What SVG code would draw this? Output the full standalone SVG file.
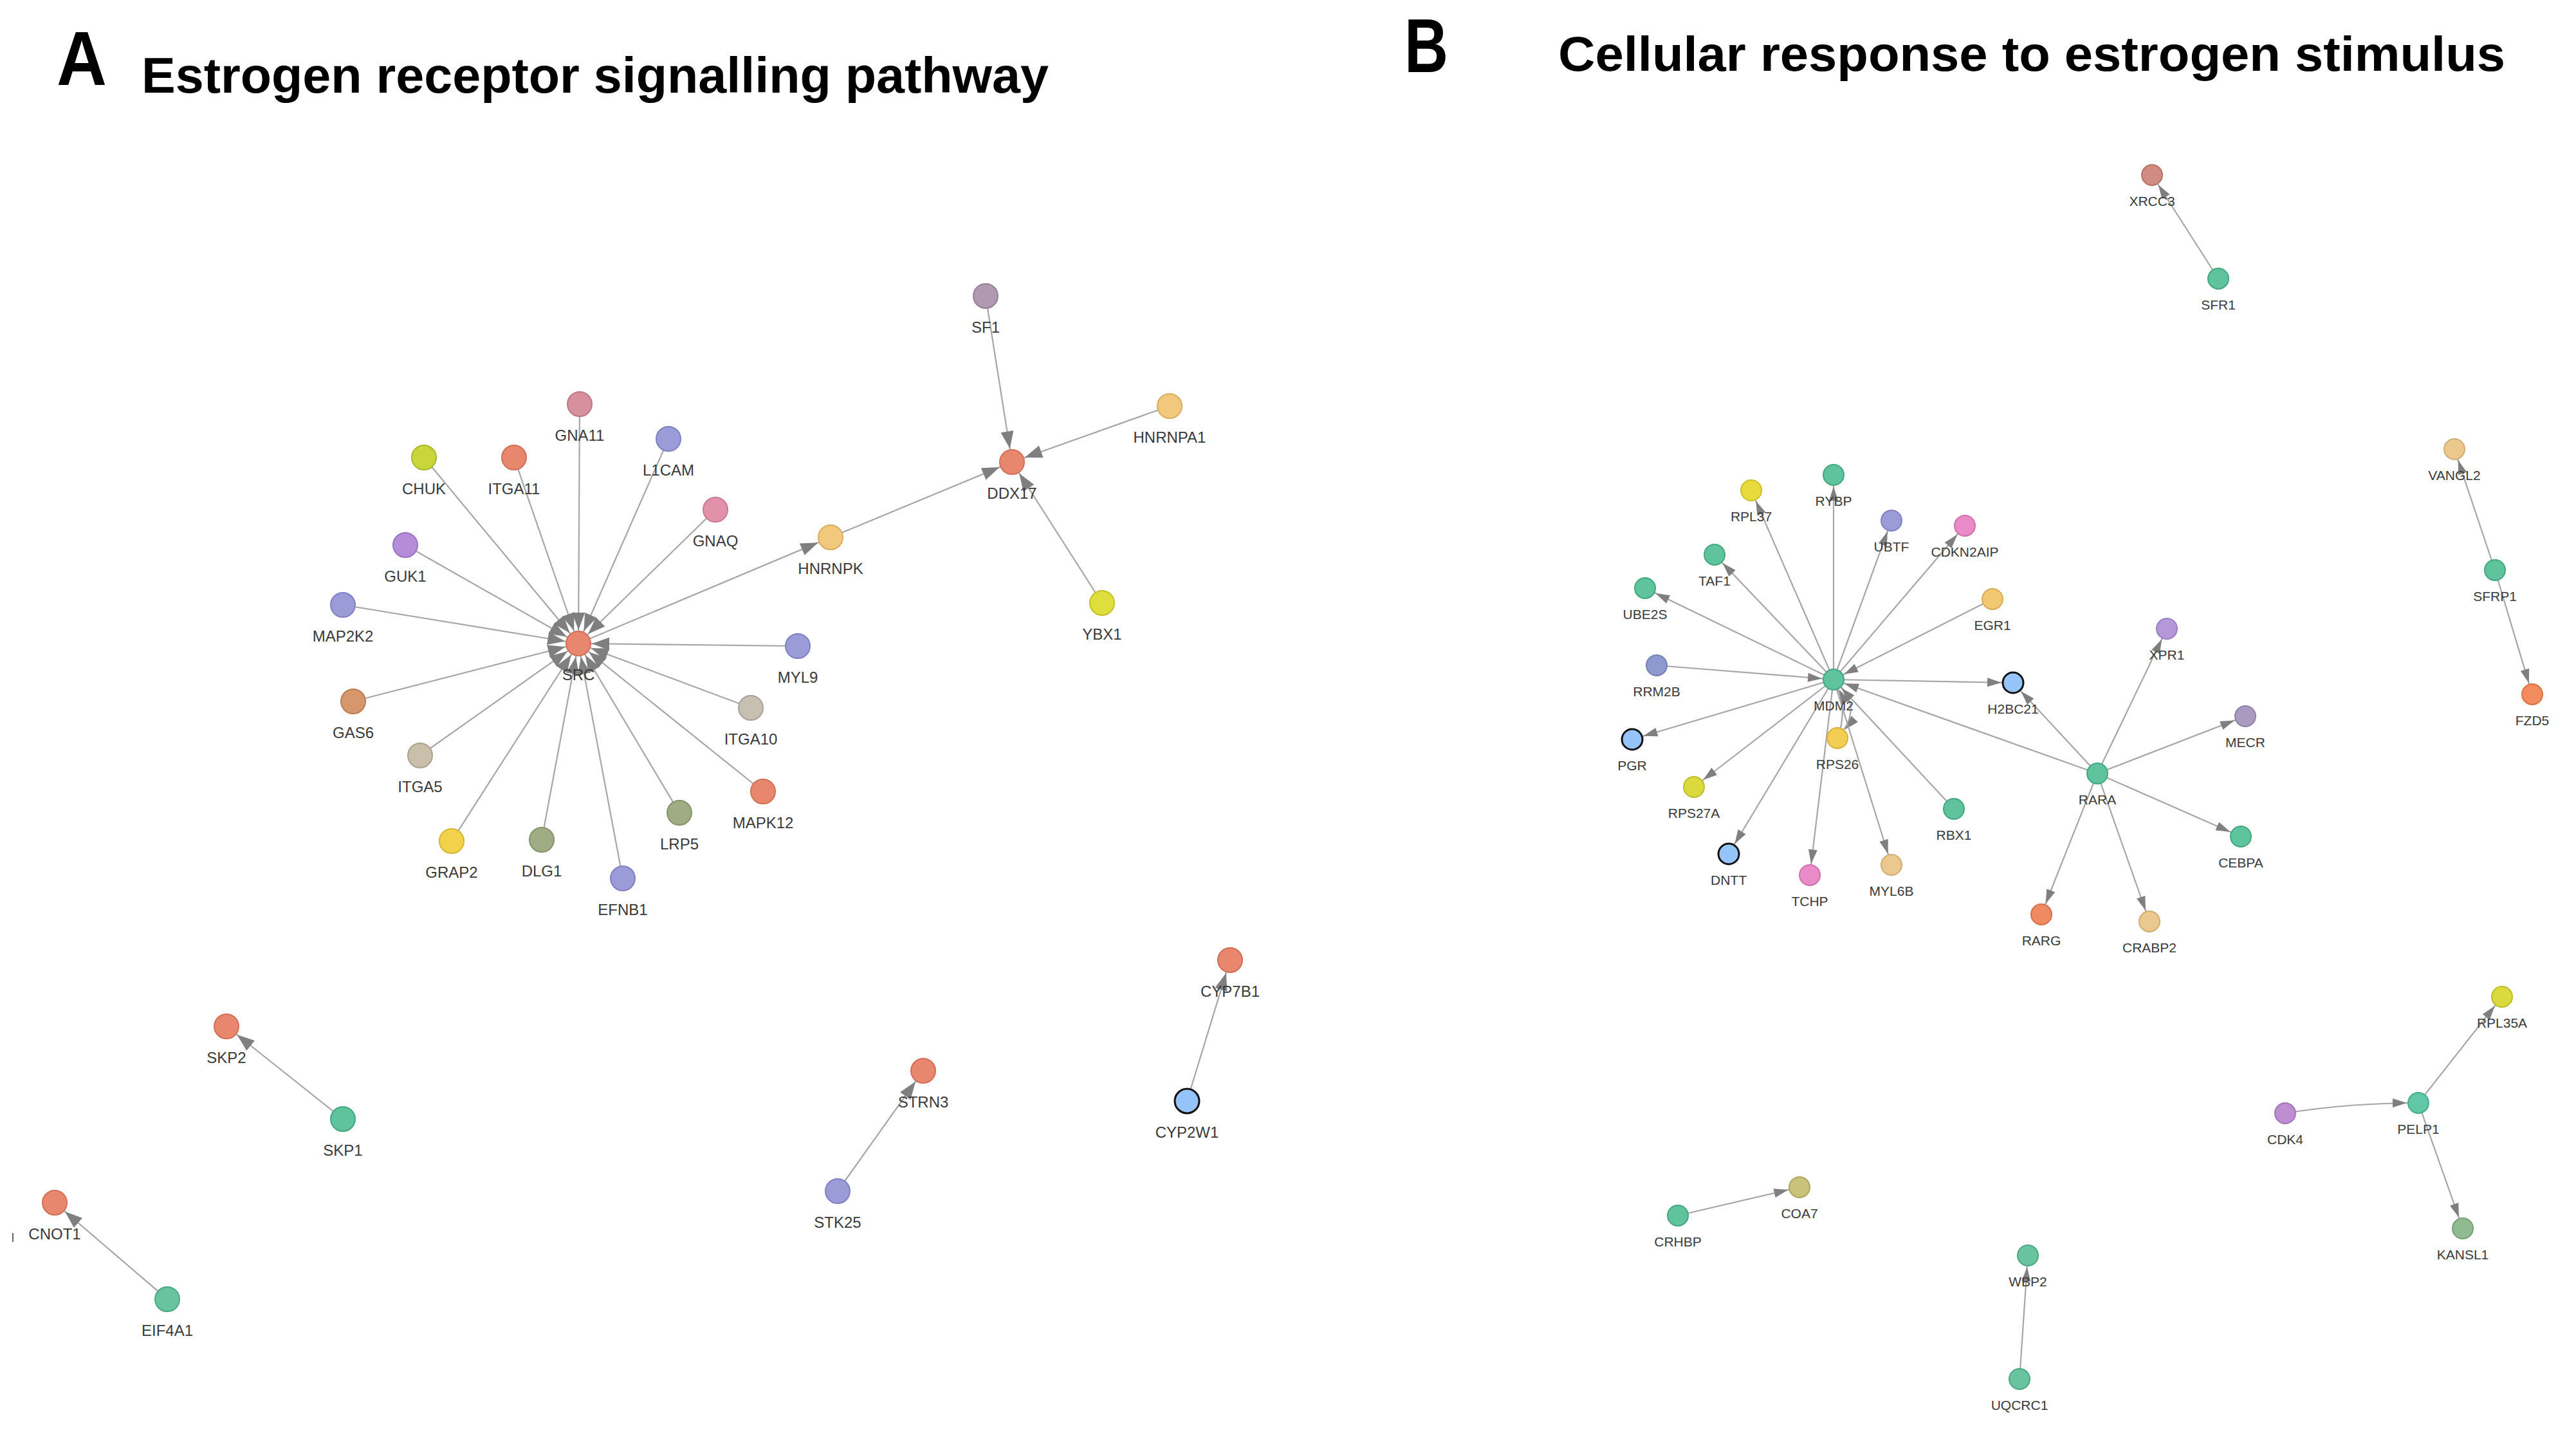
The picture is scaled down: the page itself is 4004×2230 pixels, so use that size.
<svg xmlns="http://www.w3.org/2000/svg" width="4004" height="2230" viewBox="0 0 4004 2230">
<style>
.e{stroke:#a6a6a6;stroke-width:2.2;fill:none}
.la{font-family:"Liberation Sans",Arial,sans-serif;font-size:24px;fill:#3a3a3a;text-anchor:middle}
.lb{font-family:"Liberation Sans",Arial,sans-serif;font-size:21px;fill:#3a3a3a;text-anchor:middle}
.ttl{font-family:"Liberation Sans",Arial,sans-serif;font-weight:bold;fill:#000}
circle{stroke-width:2}
.salmon{fill:#E9866E;stroke:#D26F57}
.pinkA{fill:#D6909E;stroke:#BF7886}
.pink2{fill:#E291AA;stroke:#CB7893}
.chuk{fill:#C8D63C;stroke:#A9B82A}
.lav{fill:#9B9BD8;stroke:#8080C4}
.purp{fill:#B48CD8;stroke:#9A72C2}
.gas{fill:#D6976C;stroke:#BC7D52}
.beige{fill:#C9BFAA;stroke:#ADA28C}
.beige2{fill:#C6BFB2;stroke:#AAA294}
.yel{fill:#F2D24A;stroke:#D6B632}
.olive{fill:#9FAC84;stroke:#85936A}
.lorange{fill:#F2C97C;stroke:#D9AD5E}
.mauve{fill:#AF9AB2;stroke:#957F99}
.ybx{fill:#DEDE3C;stroke:#C2C228}
.teal{fill:#5FC39D;stroke:#43A882}
.teal2{fill:#68C39E;stroke:#4CA983}
.blueb{fill:#94C4FA;stroke:#111;stroke-width:3}
.yel2{fill:#E8DC3C;stroke:#CCC028}
.magenta{fill:#E98BC8;stroke:#D070AE}
.egr{fill:#F2C872;stroke:#D8AC55}
.rrm{fill:#8E9ACD;stroke:#7480B8}
.rps26{fill:#F2CE52;stroke:#D8B23A}
.rps27{fill:#DADA3E;stroke:#BEBE2A}
.tan{fill:#EBC98E;stroke:#D1AE72}
.xpr{fill:#B598D8;stroke:#9A7EC2}
.mecr{fill:#A99BC0;stroke:#8E80A8}
.rarg{fill:#EF8A62;stroke:#D87048}
.xrcc{fill:#D18C82;stroke:#B87268}
.fzd{fill:#F28C5E;stroke:#DA7244}
.cdk4{fill:#BE8ED2;stroke:#A474BA}
.kansl{fill:#90BA90;stroke:#76A076}
.coa7{fill:#C9C27A;stroke:#ADA65E}
.pelp{fill:#60C8A6;stroke:#44AE8B}
</style>
<defs>
<marker id="arrA" markerUnits="userSpaceOnUse" markerWidth="30" markerHeight="22" refX="48" refY="10" orient="auto" overflow="visible">
<path d="M0,0 L27,10 L0,20 z" fill="#7f7f7f"/>
</marker>
<marker id="arrB" markerUnits="userSpaceOnUse" markerWidth="24" markerHeight="16" refX="40" refY="7" orient="auto" overflow="visible">
<path d="M0,0 L22,7 L0,14 z" fill="#7f7f7f"/>
</marker>
</defs>
<rect width="4004" height="2230" fill="#fff"/>

<g id="titles">
<text class="ttl" x="88" y="132" font-size="118" textLength="78" lengthAdjust="spacingAndGlyphs">A</text>
<text class="ttl" x="220" y="144" font-size="78" textLength="1410" lengthAdjust="spacingAndGlyphs">Estrogen receptor signalling pathway</text>
<text class="ttl" x="2183" y="112" font-size="118" textLength="68" lengthAdjust="spacingAndGlyphs">B</text>
<text class="ttl" x="2422" y="110" font-size="76" textLength="1472" lengthAdjust="spacingAndGlyphs">Cellular response to estrogen stimulus</text>
</g>

<g id="connectors">
<g id="edges-A" marker-end="url(#arrA)">
<line class="e" x1="901" y1="628" x2="899" y2="1000"/>
<line class="e" x1="659" y1="711" x2="899" y2="1000"/>
<line class="e" x1="799" y1="711" x2="899" y2="1000"/>
<line class="e" x1="1039" y1="682" x2="899" y2="1000"/>
<line class="e" x1="1112" y1="792" x2="899" y2="1000"/>
<line class="e" x1="630" y1="847" x2="899" y2="1000"/>
<line class="e" x1="533" y1="940" x2="899" y2="1000"/>
<line class="e" x1="1240" y1="1004" x2="899" y2="1000"/>
<line class="e" x1="549" y1="1090" x2="899" y2="1000"/>
<line class="e" x1="653" y1="1174" x2="899" y2="1000"/>
<line class="e" x1="702" y1="1307" x2="899" y2="1000"/>
<line class="e" x1="842" y1="1305" x2="899" y2="1000"/>
<line class="e" x1="968" y1="1365" x2="899" y2="1000"/>
<line class="e" x1="1056" y1="1263" x2="899" y2="1000"/>
<line class="e" x1="1167" y1="1100" x2="899" y2="1000"/>
<line class="e" x1="1186" y1="1230" x2="899" y2="1000"/>
<line class="e" x1="899" y1="1000" x2="1291" y2="835"/>
<line class="e" x1="1291" y1="835" x2="1573" y2="718"/>
<line class="e" x1="1532" y1="460" x2="1573" y2="718"/>
<line class="e" x1="1818" y1="631" x2="1573" y2="718"/>
<line class="e" x1="1713" y1="937" x2="1573" y2="718"/>
<line class="e" x1="533" y1="1739" x2="352" y2="1595"/>
<line class="e" x1="260" y1="2019" x2="85" y2="1869"/>
<line class="e" x1="1302" y1="1851" x2="1435" y2="1664"/>
<line class="e" x1="1845" y1="1711" x2="1912" y2="1492"/>
</g>
<g id="edges-B" marker-end="url(#arrB)">
<line class="e" x1="2850" y1="1056" x2="2850" y2="738"/>
<line class="e" x1="2850" y1="1056" x2="2722" y2="762"/>
<line class="e" x1="2850" y1="1056" x2="2940" y2="809"/>
<line class="e" x1="2850" y1="1056" x2="3054" y2="817"/>
<line class="e" x1="2850" y1="1056" x2="2665" y2="862"/>
<line class="e" x1="2850" y1="1056" x2="2557" y2="914"/>
<line class="e" x1="3097" y1="931" x2="2850" y2="1056"/>
<line class="e" x1="2575" y1="1034" x2="2850" y2="1056"/>
<line class="e" x1="2850" y1="1056" x2="3129" y2="1061"/>
<line class="e" x1="2850" y1="1056" x2="2537" y2="1149"/>
<path class="e" d="M2850,1056 Q2900,1098 2856,1147"/>
<path class="e" d="M2856,1147 Q2874,1100 2850,1056"/>
<line class="e" x1="2850" y1="1056" x2="2633" y2="1223"/>
<line class="e" x1="3037" y1="1257" x2="2850" y2="1056"/>
<line class="e" x1="2850" y1="1056" x2="2687" y2="1327"/>
<line class="e" x1="2850" y1="1056" x2="2813" y2="1360"/>
<line class="e" x1="2850" y1="1056" x2="2940" y2="1344"/>
<line class="e" x1="3260" y1="1202" x2="2850" y2="1056"/>
<line class="e" x1="3260" y1="1202" x2="3129" y2="1061"/>
<line class="e" x1="3260" y1="1202" x2="3368" y2="977"/>
<line class="e" x1="3260" y1="1202" x2="3490" y2="1113"/>
<line class="e" x1="3260" y1="1202" x2="3483" y2="1300"/>
<line class="e" x1="3260" y1="1202" x2="3173" y2="1421"/>
<line class="e" x1="3260" y1="1202" x2="3341" y2="1432"/>
<line class="e" x1="3448" y1="433" x2="3345" y2="272"/>
<line class="e" x1="3878" y1="886" x2="3815" y2="698"/>
<line class="e" x1="3878" y1="886" x2="3936" y2="1079"/>
<line class="e" x1="3759" y1="1714" x2="3889" y2="1549"/>
<path class="e" d="M3552,1730 Q3650,1714 3759,1714"/>
<line class="e" x1="3759" y1="1714" x2="3828" y2="1909"/>
<line class="e" x1="2608" y1="1889" x2="2797" y2="1845"/>
<line class="e" x1="3139" y1="2143" x2="3152" y2="1951"/>
</g>
</g>

<g id="nodes-A">
<g id="n-SRC"><circle class="salmon" cx="899" cy="1000" r="19"/><text class="la" x="899" y="1057">SRC</text></g>
<g id="n-GNA11"><circle class="pinkA" cx="901" cy="628" r="19"/><text class="la" x="901" y="685">GNA11</text></g>
<g id="n-CHUK"><circle class="chuk" cx="659" cy="711" r="19"/><text class="la" x="659" y="768">CHUK</text></g>
<g id="n-ITGA11"><circle class="salmon" cx="799" cy="711" r="19"/><text class="la" x="799" y="768">ITGA11</text></g>
<g id="n-L1CAM"><circle class="lav" cx="1039" cy="682" r="19"/><text class="la" x="1039" y="739">L1CAM</text></g>
<g id="n-GNAQ"><circle class="pink2" cx="1112" cy="792" r="19"/><text class="la" x="1112" y="849">GNAQ</text></g>
<g id="n-GUK1"><circle class="purp" cx="630" cy="847" r="19"/><text class="la" x="630" y="904">GUK1</text></g>
<g id="n-MAP2K2"><circle class="lav" cx="533" cy="940" r="19"/><text class="la" x="533" y="997">MAP2K2</text></g>
<g id="n-MYL9"><circle class="lav" cx="1240" cy="1004" r="19"/><text class="la" x="1240" y="1061">MYL9</text></g>
<g id="n-GAS6"><circle class="gas" cx="549" cy="1090" r="19"/><text class="la" x="549" y="1147">GAS6</text></g>
<g id="n-ITGA5"><circle class="beige" cx="653" cy="1174" r="19"/><text class="la" x="653" y="1231">ITGA5</text></g>
<g id="n-GRAP2"><circle class="yel" cx="702" cy="1307" r="19"/><text class="la" x="702" y="1364">GRAP2</text></g>
<g id="n-DLG1"><circle class="olive" cx="842" cy="1305" r="19"/><text class="la" x="842" y="1362">DLG1</text></g>
<g id="n-EFNB1"><circle class="lav" cx="968" cy="1365" r="19"/><text class="la" x="968" y="1422">EFNB1</text></g>
<g id="n-LRP5"><circle class="olive" cx="1056" cy="1263" r="19"/><text class="la" x="1056" y="1320">LRP5</text></g>
<g id="n-ITGA10"><circle class="beige2" cx="1167" cy="1100" r="19"/><text class="la" x="1167" y="1157">ITGA10</text></g>
<g id="n-MAPK12"><circle class="salmon" cx="1186" cy="1230" r="19"/><text class="la" x="1186" y="1287">MAPK12</text></g>
<g id="n-HNRNPK"><circle class="lorange" cx="1291" cy="835" r="19"/><text class="la" x="1291" y="892">HNRNPK</text></g>
<g id="n-SF1"><circle class="mauve" cx="1532" cy="460" r="19"/><text class="la" x="1532" y="517">SF1</text></g>
<g id="n-DDX17"><circle class="salmon" cx="1573" cy="718" r="19"/><text class="la" x="1573" y="775">DDX17</text></g>
<g id="n-HNRNPA1"><circle class="lorange" cx="1818" cy="631" r="19"/><text class="la" x="1818" y="688">HNRNPA1</text></g>
<g id="n-YBX1"><circle class="ybx" cx="1713" cy="937" r="19"/><text class="la" x="1713" y="994">YBX1</text></g>
<g id="n-SKP2"><circle class="salmon" cx="352" cy="1595" r="19"/><text class="la" x="352" y="1652">SKP2</text></g>
<g id="n-SKP1"><circle class="teal" cx="533" cy="1739" r="19"/><text class="la" x="533" y="1796">SKP1</text></g>
<g id="n-CNOT1"><circle class="salmon" cx="85" cy="1869" r="19"/><text class="la" x="85" y="1926">CNOT1</text></g>
<g id="n-EIF4A1"><circle class="teal2" cx="260" cy="2019" r="19"/><text class="la" x="260" y="2076">EIF4A1</text></g>
<g id="n-STRN3"><circle class="salmon" cx="1435" cy="1664" r="19"/><text class="la" x="1435" y="1721">STRN3</text></g>
<g id="n-STK25"><circle class="lav" cx="1302" cy="1851" r="19"/><text class="la" x="1302" y="1908">STK25</text></g>
<g id="n-CYP7B1"><circle class="salmon" cx="1912" cy="1492" r="19"/><text class="la" x="1912" y="1549">CYP7B1</text></g>
<g id="n-CYP2W1"><circle class="blueb" cx="1845" cy="1711" r="19"/><text class="la" x="1845" y="1768">CYP2W1</text></g>
<line x1="20" y1="1916" x2="20" y2="1930" stroke="#666" stroke-width="2"/>
</g>

<g id="nodes-B">
<g id="n-MDM2"><circle class="teal" cx="2850" cy="1056" r="16"/><text class="lb" x="2850" y="1104">MDM2</text></g>
<g id="n-RYBP"><circle class="teal" cx="2850" cy="738" r="16"/><text class="lb" x="2850" y="786">RYBP</text></g>
<g id="n-RPL37"><circle class="yel2" cx="2722" cy="762" r="16"/><text class="lb" x="2722" y="810">RPL37</text></g>
<g id="n-UBTF"><circle class="lav" cx="2940" cy="809" r="16"/><text class="lb" x="2940" y="857">UBTF</text></g>
<g id="n-CDKN2AIP"><circle class="magenta" cx="3054" cy="817" r="16"/><text class="lb" x="3054" y="865">CDKN2AIP</text></g>
<g id="n-TAF1"><circle class="teal" cx="2665" cy="862" r="16"/><text class="lb" x="2665" y="910">TAF1</text></g>
<g id="n-UBE2S"><circle class="teal" cx="2557" cy="914" r="16"/><text class="lb" x="2557" y="962">UBE2S</text></g>
<g id="n-EGR1"><circle class="egr" cx="3097" cy="931" r="16"/><text class="lb" x="3097" y="979">EGR1</text></g>
<g id="n-RRM2B"><circle class="rrm" cx="2575" cy="1034" r="16"/><text class="lb" x="2575" y="1082">RRM2B</text></g>
<g id="n-H2BC21"><circle class="blueb" cx="3129" cy="1061" r="16"/><text class="lb" x="3129" y="1109">H2BC21</text></g>
<g id="n-PGR"><circle class="blueb" cx="2537" cy="1149" r="16"/><text class="lb" x="2537" y="1197">PGR</text></g>
<g id="n-RPS26"><circle class="rps26" cx="2856" cy="1147" r="16"/><text class="lb" x="2856" y="1195">RPS26</text></g>
<g id="n-RPS27A"><circle class="rps27" cx="2633" cy="1223" r="16"/><text class="lb" x="2633" y="1271">RPS27A</text></g>
<g id="n-RBX1"><circle class="teal" cx="3037" cy="1257" r="16"/><text class="lb" x="3037" y="1305">RBX1</text></g>
<g id="n-DNTT"><circle class="blueb" cx="2687" cy="1327" r="16"/><text class="lb" x="2687" y="1375">DNTT</text></g>
<g id="n-TCHP"><circle class="magenta" cx="2813" cy="1360" r="16"/><text class="lb" x="2813" y="1408">TCHP</text></g>
<g id="n-MYL6B"><circle class="tan" cx="2940" cy="1344" r="16"/><text class="lb" x="2940" y="1392">MYL6B</text></g>
<g id="n-RARA"><circle class="teal" cx="3260" cy="1202" r="16"/><text class="lb" x="3260" y="1250">RARA</text></g>
<g id="n-XPR1"><circle class="xpr" cx="3368" cy="977" r="16"/><text class="lb" x="3368" y="1025">XPR1</text></g>
<g id="n-MECR"><circle class="mecr" cx="3490" cy="1113" r="16"/><text class="lb" x="3490" y="1161">MECR</text></g>
<g id="n-CEBPA"><circle class="teal" cx="3483" cy="1300" r="16"/><text class="lb" x="3483" y="1348">CEBPA</text></g>
<g id="n-RARG"><circle class="rarg" cx="3173" cy="1421" r="16"/><text class="lb" x="3173" y="1469">RARG</text></g>
<g id="n-CRABP2"><circle class="tan" cx="3341" cy="1432" r="16"/><text class="lb" x="3341" y="1480">CRABP2</text></g>
<g id="n-XRCC3"><circle class="xrcc" cx="3345" cy="272" r="16"/><text class="lb" x="3345" y="320">XRCC3</text></g>
<g id="n-SFR1"><circle class="teal" cx="3448" cy="433" r="16"/><text class="lb" x="3448" y="481">SFR1</text></g>
<g id="n-VANGL2"><circle class="tan" cx="3815" cy="698" r="16"/><text class="lb" x="3815" y="746">VANGL2</text></g>
<g id="n-SFRP1"><circle class="teal" cx="3878" cy="886" r="16"/><text class="lb" x="3878" y="934">SFRP1</text></g>
<g id="n-FZD5"><circle class="fzd" cx="3936" cy="1079" r="16"/><text class="lb" x="3936" y="1127">FZD5</text></g>
<g id="n-RPL35A"><circle class="rps27" cx="3889" cy="1549" r="16"/><text class="lb" x="3889" y="1597">RPL35A</text></g>
<g id="n-PELP1"><circle class="pelp" cx="3759" cy="1714" r="16"/><text class="lb" x="3759" y="1762">PELP1</text></g>
<g id="n-CDK4"><circle class="cdk4" cx="3552" cy="1730" r="16"/><text class="lb" x="3552" y="1778">CDK4</text></g>
<g id="n-KANSL1"><circle class="kansl" cx="3828" cy="1909" r="16"/><text class="lb" x="3828" y="1957">KANSL1</text></g>
<g id="n-CRHBP"><circle class="teal" cx="2608" cy="1889" r="16"/><text class="lb" x="2608" y="1937">CRHBP</text></g>
<g id="n-COA7"><circle class="coa7" cx="2797" cy="1845" r="16"/><text class="lb" x="2797" y="1893">COA7</text></g>
<g id="n-WBP2"><circle class="teal2" cx="3152" cy="1951" r="16"/><text class="lb" x="3152" y="1999">WBP2</text></g>
<g id="n-UQCRC1"><circle class="teal2" cx="3139" cy="2143" r="16"/><text class="lb" x="3139" y="2191">UQCRC1</text></g>
</g>
</svg>
